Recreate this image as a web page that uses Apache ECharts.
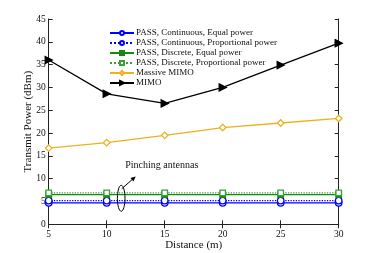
<!DOCTYPE html>
<html><head><meta charset="utf-8">
<script src="https://cdn.jsdelivr.net/npm/echarts@6/dist/echarts.min.js"></script>
<style>html,body{margin:0;padding:0;background:#fff}#c{width:374px;height:253px}</style>
</head><body><div id="c"></div>
<script>
const distances = [5, 10, 15, 20, 25, 30];
const passContEqual = [4.7, 4.7, 4.7, 4.7, 4.7, 4.7];
const passContProp = [5.2, 5.2, 5.2, 5.2, 5.2, 5.2];
const passDiscEqual = [6.5, 6.5, 6.5, 6.5, 6.5, 6.5];
const passDiscProp = [6.9, 6.9, 6.9, 6.9, 6.9, 6.9];
const massiveMimo = [16.7, 17.9, 19.5, 21.2, 22.2, 23.2];
const mimo = [36.0, 28.6, 26.5, 30.0, 34.9, 39.7];
const yTicks = [0, 5, 10, 15, 20, 25, 30, 35, 40, 45];
const xTicks = [5, 10, 15, 20, 25, 30];

const FONT = 'Liberation Serif';
const chart = echarts.init(document.getElementById('c'));
const pair = a => distances.map((d, i) => [d, a[i]]);
function mk(name, data, color, lineType, symbol, fill, size) {
  return {
    name, type: 'line', data: pair(data), xAxisIndex: 0, yAxisIndex: 0,
    symbol, symbolSize: size, showSymbol: true,
    lineStyle: { color, width: 1.3, type: lineType },
    itemStyle: { color: fill ? color : '#fff', borderColor: color, borderWidth: 1.3 },
    emphasis: { disabled: true }, animation: false, z: 3
  };
}
const series = [
  mk('PASS, Continuous, Equal power', passContEqual, '#0000ff', 'solid', 'circle', false, 6.5),
  mk('PASS, Continuous, Proportional power', passContProp, '#0000ff', 'dotted', 'circle', false, 6.5),
  mk('PASS, Discrete, Equal power', passDiscEqual, '#128a12', 'solid', 'rect', true, 5.5),
  mk('PASS, Discrete, Proportional power', passDiscProp, '#3aa03a', 'dotted', 'rect', false, 5.5),
  mk('Massive MIMO', massiveMimo, '#EDB120', 'solid', 'diamond', false, 6.5),
  mk('MIMO', mimo, '#000000', 'solid', 'path://M0,0 L10,5 L0,10 Z', true, 7)
];
const axisCommon = {
  axisLine: { show: true, lineStyle: { color: '#222', width: 1 } },
  axisTick: { show: true, inside: true, length: 4, lineStyle: { color: '#222' } },
  splitLine: { show: false }
};
const option = {
  animation: false,
  backgroundColor: '#fff',
  grid: { left: 48.7, right: 35.3, top: 19, bottom: 28.7, containLabel: false, outerBoundsMode: 'none' },
  legend: {
    left: 109, top: 28, padding: 0, orient: 'vertical', itemWidth: 24, itemHeight: 5, itemGap: 0,
    textStyle: { fontFamily: FONT, fontSize: 9, lineHeight: 10, color: '#111', padding: [0, 0, 0, -3] },
    data: series.map(s => s.name), selectedMode: false
  },
  xAxis: [
    Object.assign({}, axisCommon, {
      type: 'value', min: 5, max: 30, interval: 5, position: 'bottom',
      name: 'Distance (m)', nameLocation: 'middle', nameGap: 15, nameMoveOverlap: false,
      nameTextStyle: { fontFamily: FONT, fontSize: 11, color: '#111' },
      axisLabel: { fontFamily: FONT, fontSize: 9.5, color: '#111', margin: 5 }
    }),
    Object.assign({}, axisCommon, {
      type: 'value', min: 5, max: 30, interval: 5, position: 'top', axisLabel: { show: false }
    })
  ],
  yAxis: [
    Object.assign({}, axisCommon, {
      type: 'value', min: 0, max: 45, interval: 5, position: 'left',
      name: 'Transmit Power (dBm)', nameLocation: 'middle', nameGap: 15, nameMoveOverlap: false,
      nameTextStyle: { fontFamily: FONT, fontSize: 11, color: '#111' },
      axisLabel: { fontFamily: FONT, fontSize: 9.5, color: '#111', margin: 3 }
    }),
    Object.assign({}, axisCommon, {
      type: 'value', min: 0, max: 45, interval: 5, position: 'right', axisLabel: { show: false }
    })
  ],
  series
};
chart.setOption(option);

// annotation
const ellC = chart.convertToPixel({ xAxisIndex: 0, yAxisIndex: 0 }, [11.25, 5.7]);
const a0 = chart.convertToPixel({ xAxisIndex: 0, yAxisIndex: 0 }, [11.3, 7.8]);
const a1 = chart.convertToPixel({ xAxisIndex: 0, yAxisIndex: 0 }, [12.5, 10.5]);
const tp = chart.convertToPixel({ xAxisIndex: 0, yAxisIndex: 0 }, [11.6, 12.9]);
const ang = Math.atan2(a1[1] - a0[1], a1[0] - a0[0]);
const hl = 5, hw = 2.3;
const hx = a1[0] - hl * Math.cos(ang), hy = a1[1] - hl * Math.sin(ang);
chart.setOption({
  graphic: [
    { type: 'ellipse', shape: { cx: ellC[0], cy: ellC[1], rx: 3.8, ry: 13 },
      style: { fill: 'none', stroke: '#000', lineWidth: 1 }, z: 10 },
    { type: 'line', shape: { x1: a0[0], y1: a0[1], x2: hx, y2: hy }, style: { stroke: '#000', lineWidth: 1 }, z: 10 },
    { type: 'polygon', shape: { points: [
        [a1[0], a1[1]],
        [hx + hw * Math.sin(ang), hy - hw * Math.cos(ang)],
        [hx - hw * Math.sin(ang), hy + hw * Math.cos(ang)]
      ] }, style: { fill: '#000' }, z: 10 },
    { type: 'text', x: tp[0], y: tp[1], style: { text: 'Pinching antennas', font: '10px "Liberation Serif"', fill: '#111', textVerticalAlign: 'middle' }, z: 10 }
  ]
});
</script></body></html>
